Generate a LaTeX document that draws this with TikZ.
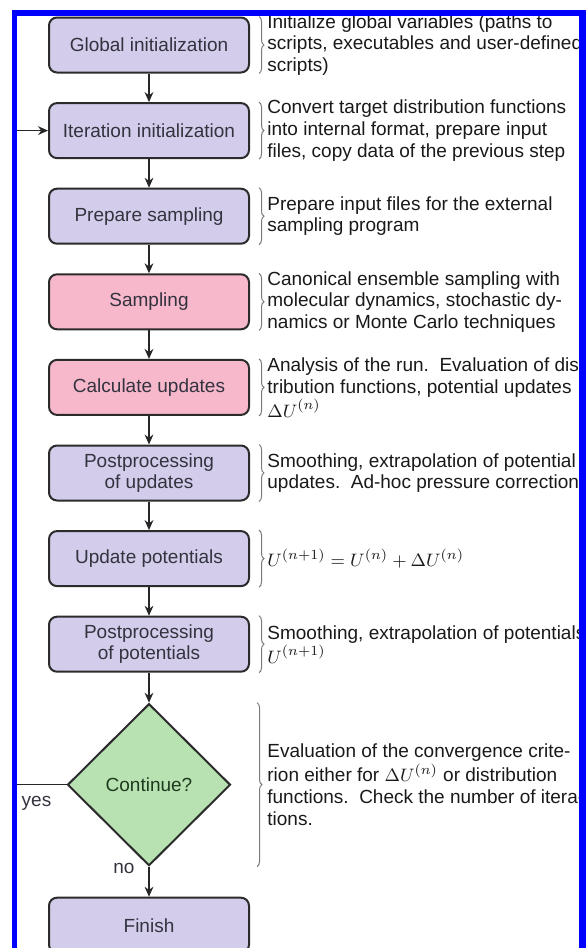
\documentclass[tikz,border=0pt]{standalone}
\usepackage{fontspec}
\setmainfont{Liberation Sans}
\usepackage{tikz}
\usetikzlibrary{arrows.meta,positioning,shapes.geometric,decorations.pathreplacing}
\definecolor{boxlilac}{HTML}{D3CDEB}
\definecolor{boxpink}{HTML}{F7B8CB}
\definecolor{boxgreen}{HTML}{B9E2B2}
\definecolor{boxline}{HTML}{2B2B2B}
\definecolor{boxtext}{HTML}{33333F}
\definecolor{greentext}{HTML}{1E3A1E}
\definecolor{bracegray}{HTML}{7A7A7A}
\definecolor{frameblue}{HTML}{0000FF}
\tikzset{
  stepbox/.style={
    draw=boxline,
    fill=boxlilac,
    text=boxtext,
    line width=1pt,
    rounded corners=4pt,
    align=center,
    minimum width=100pt,
    minimum height=27.5pt,
    inner sep=2pt,
    font=\fontsize{9.5pt}{10.85pt}\selectfont
  },
  stepboxpink/.style={stepbox, fill=boxpink},
  decision/.style={
    diamond,
    draw=boxline,
    fill=boxgreen,
    text=greentext,
    line width=1pt,
    minimum width=81.5pt,
    minimum height=81pt,
    inner sep=0pt,
    font=\fontsize{9.5pt}{10.85pt}\selectfont
  },
  arrow/.style={-{Stealth[length=5pt,width=4.4pt]}, line width=0.7pt, draw=black!85},
  notebrace/.style={decorate, decoration={brace, amplitude=2.5pt}, draw=bracegray, line width=0.5pt},
  notetext/.style={anchor=west, align=left, inner sep=0pt, text=black!90, font=\fontsize{9.5pt}{10.85pt}\selectfont},
  smallnote/.style={inner sep=0pt, text=boxtext, font=\fontsize{9.5pt}{10.85pt}\selectfont}
}
\begin{document}
\begin{tikzpicture}[node distance=14.3pt]
  \useasboundingbox (0,0) rectangle (293pt,-474pt);
  % steps of the loop
  \node[stepbox] (glob) at (74.5pt,-22.5pt) {Global initialization};
  \node[stepbox, below=of glob] (iter) {Iteration initialization};
  \node[stepbox, below=of iter] (prep) {Prepare sampling};
  \node[stepboxpink, below=of prep] (samp) {Sampling};
  \node[stepboxpink, below=of samp] (calc) {Calculate updates};
  \node[stepbox, below=of calc] (ppupd) {Postprocessing\\of updates};
  \node[stepbox, below=of ppupd] (updpot) {Update potentials};
  \node[stepbox, below=of updpot] (pppot) {Postprocessing\\of potentials};
  \node[decision, below=15pt of pppot] (cont) {Continue?};
  \node[stepbox, below=15pt of cont] (finish) {Finish};
  \draw[arrow] (glob) -- (iter);
  \draw[arrow] (iter) -- (prep);
  \draw[arrow] (prep) -- (samp);
  \draw[arrow] (samp) -- (calc);
  \draw[arrow] (calc) -- (ppupd);
  \draw[arrow] (ppupd) -- (updpot);
  \draw[arrow] (updpot) -- (pppot);
  \draw[arrow] (pppot) -- (cont);
  \draw[arrow] (cont) -- (finish);
  \coordinate (rail) at (7.2pt,-22.5pt);
  \draw[arrow] (cont.west) -- (cont.west -| rail) |- (iter.west);
  \node[smallnote] (yeslbl) at ([xshift=-15pt,yshift=-9.5pt]cont.west) {yes};
  \node[smallnote] (nolbl) at ([xshift=-12.5pt,yshift=-1pt]cont.south) {no};
  % notes with braces
  \draw[notebrace] ([xshift=4.5pt]glob.north east) -- ([xshift=4.5pt]glob.south east);
  \draw[notebrace] ([xshift=4.5pt]iter.north east) -- ([xshift=4.5pt]iter.south east);
  \draw[notebrace] ([xshift=4.5pt]prep.north east) -- ([xshift=4.5pt]prep.south east);
  \draw[notebrace] ([xshift=4.5pt]samp.north east) -- ([xshift=4.5pt]samp.south east);
  \draw[notebrace] ([xshift=4.5pt]calc.north east) -- ([xshift=4.5pt]calc.south east);
  \draw[notebrace] ([xshift=4.5pt]ppupd.north east) -- ([xshift=4.5pt]ppupd.south east);
  \draw[notebrace] ([xshift=4.5pt]updpot.north east) -- ([xshift=4.5pt]updpot.south east);
  \draw[notebrace] ([xshift=4.5pt]pppot.north east) -- ([xshift=4.5pt]pppot.south east);
  \coordinate (brx) at ([xshift=3.5pt]glob.east);
  \draw[notebrace] (cont.north -| brx) -- (cont.south -| brx);
  \node[notetext, right=8.5pt of glob] (globnote) {Initialize global variables (paths to\\scripts, executables and user-defined\\scripts)};
  \node[notetext, right=8.5pt of iter] (iternote) {Convert target distribution functions\\into internal format, prepare input\\files, copy data of the previous step};
  \node[notetext, right=8.5pt of prep] (prepnote) {Prepare input files for the external\\sampling program};
  \node[notetext, right=8.5pt of samp] (sampnote) {Canonical ensemble sampling with\\molecular dynamics, stochastic dy-\\namics or Monte Carlo techniques};
  \node[notetext, right=8.5pt of calc] (calcnote) {Analysis of the run.\ \ Evaluation of dis-\\tribution functions, potential updates\\$\Delta U^{(n)}$};
  \node[notetext, right=8.5pt of ppupd] (ppupdnote) {Smoothing, extrapolation of potential\\updates.\ \ Ad-hoc pressure correction.};
  \node[notetext, right=8.5pt of updpot] (updpotnote) {$U^{(n+1)} = U^{(n)} + \Delta U^{(n)}$};
  \node[notetext, right=8.5pt of pppot] (pppotnote) {Smoothing, extrapolation of potentials\\$U^{(n+1)}$};
  \node[notetext] (contnote) at (cont -| globnote.west) {Evaluation of the convergence crite-\\rion either for $\Delta U^{(n)}$ or distribution\\functions.\ \ Check the number of itera-\\tions.};
  % blue frame
  \fill[frameblue] (6pt,-5pt) rectangle (293pt,-8pt);
  \fill[frameblue] (6pt,-5pt) rectangle (8.5pt,-474pt);
  \fill[frameblue] (289.5pt,-5pt) rectangle (293pt,-474pt);
\end{tikzpicture}
\end{document}
